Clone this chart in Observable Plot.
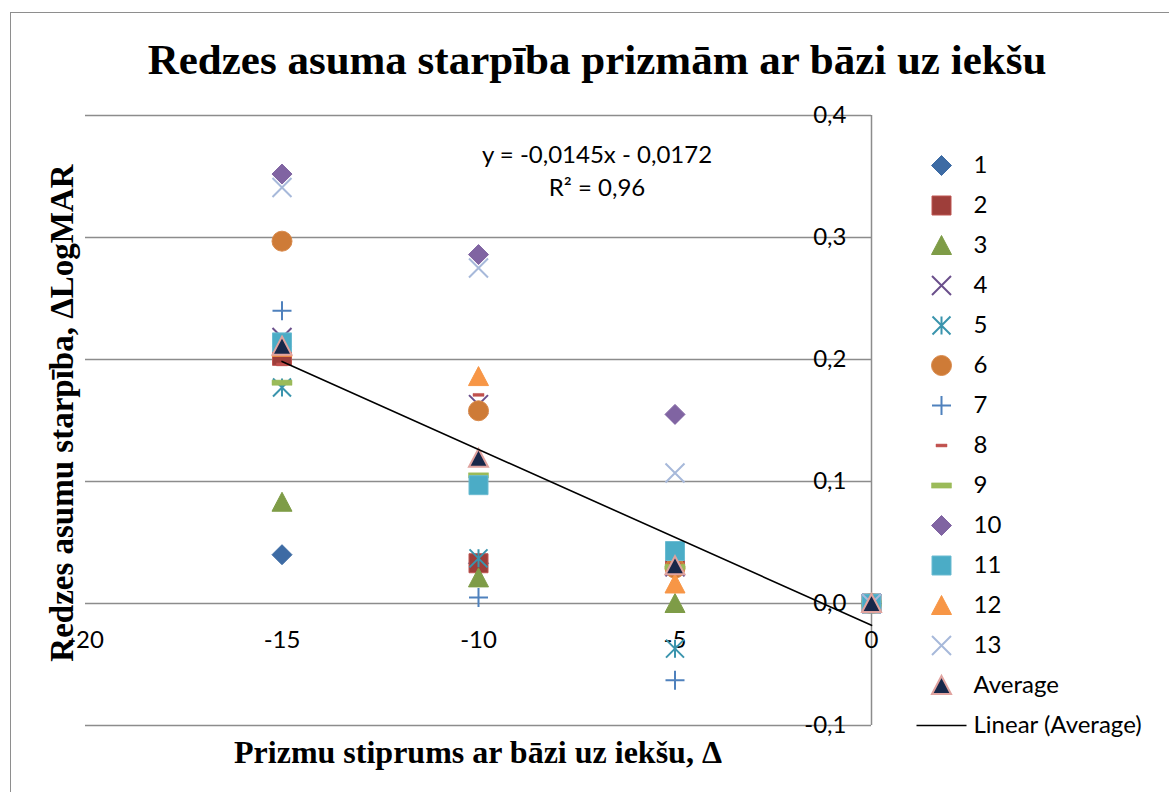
<!DOCTYPE html>
<html>
<head>
<meta charset="utf-8">
<script src="https://cdn.jsdelivr.net/npm/d3@7"></script>
<script src="https://cdn.jsdelivr.net/npm/@observablehq/plot@0.6"></script>
<style>
  body { margin: 0; background: #fff; }
  #wrap { position: relative; width: 1169px; height: 792px; overflow: hidden; background: #fff; }
  .lbl { position: absolute; white-space: nowrap; line-height: 1; transform: translate(-50%, -50%); color: #000; }
</style>
</head>
<body>
<div id="wrap"></div>
<script>
// ---- data ----
const xs = [-15, -10, -5, 0];
const seriesNames = ["1","2","3","4","5","6","7","8","9","10","11","12","13"];
const s1  = [0.040, 0.033, 0.030, 0];
const s2  = [0.203, 0.033, 0.035, 0];
const s3  = [0.083, 0.021, 0.000, 0];
const s4  = [0.218, 0.163, 0.030, 0];
const s5  = [0.177, 0.037, -0.037, 0];
const s6  = [0.297, 0.158, 0.029, 0];
const s7  = [0.240, 0.005, -0.063, 0];
const s8  = [0.196, 0.171, 0.032, 0];
const s9  = [0.181, 0.105, 0.030, 0];
const s10 = [0.352, 0.286, 0.155, 0];
const s11 = [0.214, 0.097, 0.043, 0];
const s12 = [0.210, 0.186, 0.016, 0];
const s13 = [0.341, 0.275, 0.107, 0];
const average = [0.211, 0.119, 0.031, 0];
const seriesValues = [s1,s2,s3,s4,s5,s6,s7,s8,s9,s10,s11,s12,s13];
const xTicks = [-20, -15, -10, -5, 0];
const yTicks = [-0.1, 0, 0.1, 0.2, 0.3, 0.4];
const titleText = "Redzes asuma starpība prizmām ar bāzi uz iekšu";
const yTitle = "Redzes asumu starpība, ΔLogMAR";
const xTitle = "Prizmu stiprums ar bāzi uz iekšu, Δ";
const eqText = "y = -0,0145x - 0,0172";
const r2Text = "R² = 0,96";
const avgName = "Average";
const trendName = "Linear (Average)";

// ---- custom marker shapes ----
const rad = s => Math.sqrt(s / Math.PI);
const shapes = {
  diamond: {draw(c, s){const r=rad(s); c.moveTo(0,-r); c.lineTo(r,0); c.lineTo(0,r); c.lineTo(-r,0); c.closePath();}},
  square: {draw(c, s){const r=rad(s)*0.95; c.moveTo(-r,-r); c.lineTo(r,-r); c.lineTo(r,r); c.lineTo(-r,r); c.closePath();}},
  triangle: {draw(c, s){const r=rad(s); c.moveTo(0,-r); c.lineTo(r,r*0.9); c.lineTo(-r,r*0.9); c.closePath();}},
  circle: {draw(c, s){const r=rad(s); c.moveTo(r,0); c.arc(0,0,r,0,2*Math.PI); c.closePath();}},
  times: {draw(c, s){const r=rad(s)*0.95; c.moveTo(-r,-r); c.lineTo(r,r); c.moveTo(r,-r); c.lineTo(-r,r);}},
  plus: {draw(c, s){const r=rad(s)*0.95; c.moveTo(-r,0); c.lineTo(r,0); c.moveTo(0,-r); c.lineTo(0,r);}},
  asterisk: {draw(c, s){const r=rad(s)*0.9; c.moveTo(-r,-r); c.lineTo(r,r); c.moveTo(r,-r); c.lineTo(-r,r); c.moveTo(0,-r); c.lineTo(0,r);}},
  dash: {draw(c, s){const r=rad(s); const h=r*0.26; c.moveTo(-r,-h); c.lineTo(r,-h); c.lineTo(r,h); c.lineTo(-r,h); c.closePath();}},
  hline: {draw(c, s){const r=rad(s); c.moveTo(-r,0); c.lineTo(r,0);}}
};

const styles = [
  {symbol: shapes.diamond,  fill: "#3D6BA4", stroke: "#3D6BA4", strokeWidth: 1, r: 10},
  {symbol: shapes.square,   fill: "#9E3E3A", stroke: "#BE5450", strokeWidth: 1, r: 10},
  {symbol: shapes.triangle, fill: "#7E9C47", stroke: "#7E9C47", strokeWidth: 1, r: 10},
  {symbol: shapes.times,    fill: "none", stroke: "#6A4F8B", strokeWidth: 2, r: 10},
  {symbol: shapes.asterisk, fill: "none", stroke: "#3A94AD", strokeWidth: 2, r: 10},
  {symbol: shapes.circle,   fill: "#CE7B37", stroke: "#D9894A", strokeWidth: 1, r: 10},
  {symbol: shapes.plus,     fill: "none", stroke: "#4F81BD", strokeWidth: 2, r: 10},
  {symbol: shapes.dash,     fill: "#C0504D", stroke: "#C0504D", strokeWidth: 0.5, r: 5.5},
  {symbol: shapes.dash,     fill: "#9BBB59", stroke: "#9BBB59", strokeWidth: 0.5, r: 10},
  {symbol: shapes.diamond,  fill: "#8064A2", stroke: "#8064A2", strokeWidth: 1, r: 10},
  {symbol: shapes.square,   fill: "#4BACC6", stroke: "#6BBBD1", strokeWidth: 1, r: 10},
  {symbol: shapes.triangle, fill: "#F79646", stroke: "#F79646", strokeWidth: 1, r: 10},
  {symbol: shapes.times,    fill: "none", stroke: "#A7B9DA", strokeWidth: 2, r: 10}
];
const avgStyle = {symbol: shapes.triangle, fill: "#18284A", stroke: "#E0A39F", strokeWidth: 2, r: 9.5};

const wrap = document.getElementById("wrap");
const sansFamily = "Lato, 'Open Sans', sans-serif";

// ---- main chart ----
const marks = [
  Plot.gridY(yTicks, {stroke: "#8C8C8C", strokeOpacity: 1, strokeWidth: 1.5}),
  Plot.ruleX([0], {stroke: "#8C8C8C", strokeWidth: 1.5}),
  Plot.axisY(yTicks, {anchor: "right", tickSize: 0, tickPadding: 0, dx: -25, textAnchor: "end",
    tickFormat: d => d.toFixed(1).replace(".", ","), label: null, fontSize: 24}),
  Plot.axisX(xTicks, {anchor: "bottom", tickSize: 0, tickPadding: 3, dy: -98,
    tickFormat: d => String(d), label: null, fontSize: 24})
];
seriesValues.forEach((vals, i) => {
  const data = xs.map((x, j) => ({x, y: vals[j]}));
  marks.push(Plot.dot(data, {x: "x", y: "y", ...styles[i]}));
});
const avgData = xs.map((x, j) => ({x, y: average[j]}));
marks.push(Plot.dot(avgData, {x: "x", y: "y", ...avgStyle}));
marks.push(Plot.linearRegressionY(avgData, {x: "x", y: "y", stroke: "#000", strokeWidth: 1.6, ci: 0}));

const chart = Plot.plot({
  width: 1169, height: 792,
  marginLeft: 85, marginRight: 298, marginTop: 115, marginBottom: 67,
  x: {domain: [-20, 0]},
  y: {domain: [-0.1, 0.4]},
  style: {fontFamily: sansFamily, fontSize: "24px", background: "none", color: "#000", overflow: "visible"},
  marks
});
chart.style.position = "absolute";
chart.style.left = "0px";
chart.style.top = "0px";
wrap.appendChild(chart);

// ---- legend (separate Plot) ----
const legendNames = [...seriesNames, avgName, trendName];
const legendMarks = [];
seriesNames.forEach((n, i) => legendMarks.push(Plot.dot([n], {y: d => d, frameAnchor: "left", ...styles[i]})));
legendMarks.push(Plot.dot([avgName], {y: d => d, frameAnchor: "left", ...avgStyle}));
legendMarks.push(Plot.dot([trendName], {y: d => d, frameAnchor: "left", symbol: shapes.hline, fill: "none", stroke: "#000", strokeWidth: 1.6, r: 25}));
legendMarks.push(Plot.text(legendNames, {y: d => d, text: d => d, frameAnchor: "left", dx: 32, textAnchor: "start", fontSize: 24}));
const legend = Plot.plot({
  width: 249, height: 792,
  marginLeft: 21, marginRight: 0, marginTop: 163, marginBottom: 66,
  x: {axis: null},
  y: {type: "point", domain: legendNames, padding: 0, axis: null},
  style: {fontFamily: sansFamily, fontSize: "24px", background: "none", color: "#000", overflow: "visible"},
  marks: legendMarks
});
legend.style.position = "absolute";
legend.style.left = "920px";
legend.style.top = "0px";
wrap.appendChild(legend);

// ---- texts and border ----
const border = document.createElement("div");
Object.assign(border.style, {position: "absolute", left: "10px", top: "12px", width: "1175px", height: "800px", border: "1.5px solid #8E8E8E", boxSizing: "border-box"});
wrap.insertBefore(border, wrap.firstChild);

function label(text, x, y, css, rot) {
  const d = document.createElement("div");
  d.className = "lbl";
  d.textContent = text;
  Object.assign(d.style, {left: x + "px", top: y + "px"}, css);
  if (rot) d.style.transform = "translate(-50%, -50%) rotate(" + rot + "deg)";
  wrap.appendChild(d);
}
const serifBold = {fontFamily: "'Liberation Serif', 'DejaVu Serif', serif", fontWeight: "bold"};
label(titleText, 597, 59, {...serifBold, fontSize: "43px"});
label(yTitle, 62, 413, {...serifBold, fontSize: "33px"}, -90);
label(xTitle, 478, 752, {...serifBold, fontSize: "32px"});
const sans = {fontFamily: sansFamily, fontSize: "24px"};
label(eqText, 597, 154, sans);
label(r2Text, 597, 187, sans);
</script>
</body>
</html>
